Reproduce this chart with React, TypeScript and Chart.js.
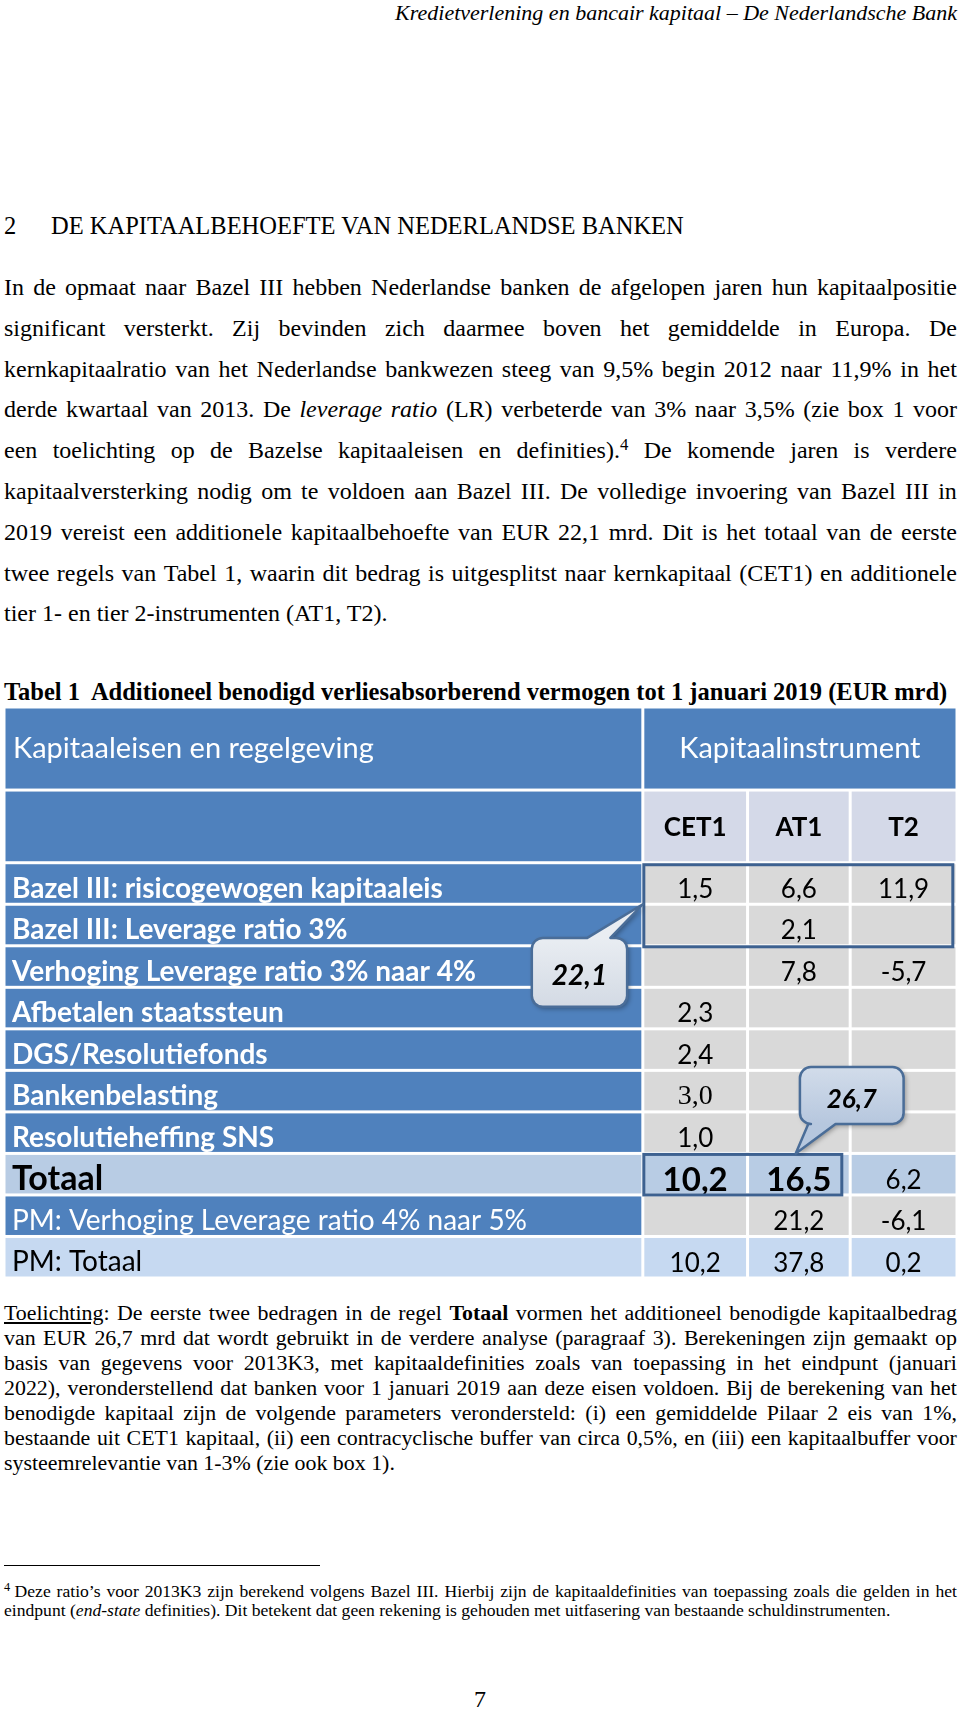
import React, { useEffect, useRef } from "react";
import { Chart, registerables } from "chart.js";

Chart.register(...registerables);

// ---------------- data ----------------
const headerLeft = "Kapitaaleisen en regelgeving";
const headerRight = "Kapitaalinstrument";
const instruments = ["CET1", "AT1", "T2"];
const rowLabels = [
  "Bazel III: risicogewogen kapitaaleis",
  "Bazel III: Leverage ratio 3%",
  "Verhoging Leverage ratio 3% naar 4%",
  "Afbetalen staatssteun",
  "DGS/Resolutiefonds",
  "Bankenbelasting",
  "Resolutieheffing SNS",
  "Totaal",
  "PM: Verhoging Leverage ratio 4% naar 5%",
  "PM: Totaal",
];
const cet1Values: (number | null)[] = [1.5, null, null, 2.3, 2.4, 3.0, 1.0, 10.2, null, 10.2];
const at1Values: (number | null)[] = [6.6, 2.1, 7.8, null, null, null, null, 16.5, 21.2, 37.8];
const t2Values: (number | null)[] = [11.9, null, -5.7, null, null, null, null, 6.2, -6.1, 0.2];
const calloutBaselValue = 22.1;
const calloutTotalValue = 26.7;

// ---------------- layout (not data) ----------------
const COL_EDGES = [0, 6.1, 7.1, 8.08, 9.1];
const HEAD_EDGES = [0, 2.0, 3.75];
const ROW0 = 3.75;
const Y_MAX = ROW0 + rowLabels.length;
const BLUE = "#4f81bd";
const GRAY = "#d9d9d9";
const LAV = "#d4d9e8";
const TOTAL = "#b8cce4";
const PMTOT = "#c6d9f1";
const BOX = "#3d6190";
const FONT = "Lato, 'Open Sans', sans-serif";

const fmt = (v: number) => v.toFixed(1).replace(".", ",");

const rowKind = (i: number) =>
  rowLabels[i] === "Totaal" ? "total" : rowLabels[i] === "PM: Totaal" ? "pmTotal" : rowLabels[i].startsWith("PM:") ? "pm" : "normal";

function calloutPath(
  ctx: CanvasRenderingContext2D,
  x0: number, y0: number, x1: number, y1: number, r: number,
  side: "top" | "bottom", a: number, b: number, tx: number, ty: number
) {
  ctx.beginPath();
  ctx.moveTo(x0 + r, y0);
  if (side === "top") {
    ctx.lineTo(a, y0);
    ctx.lineTo(tx, ty);
    ctx.lineTo(b, y0);
  }
  ctx.lineTo(x1 - r, y0);
  ctx.arcTo(x1, y0, x1, y0 + r, r);
  ctx.lineTo(x1, y1 - r);
  ctx.arcTo(x1, y1, x1 - r, y1, r);
  if (side === "bottom") {
    ctx.lineTo(b, y1);
    ctx.lineTo(tx, ty);
    ctx.lineTo(a, y1);
  }
  ctx.lineTo(x0 + r, y1);
  ctx.arcTo(x0, y1, x0, y1 - r, r);
  ctx.lineTo(x0, y0 + r);
  ctx.arcTo(x0, y0, x0 + r, y0, r);
  ctx.closePath();
}

const tablePlugin = {
  id: "tablePlugin",
  beforeDatasetsDraw(chart: any) {
    const { ctx } = chart;
    const xs = chart.scales.x;
    const ys = chart.scales.y;
    const X = (v: number) => xs.getPixelForValue(v);
    const Y = (v: number) => ys.getPixelForValue(v);
    const g = 1.5;
    const cell = (x0: number, x1: number, y0: number, y1: number, c: string) => {
      ctx.fillStyle = c;
      ctx.fillRect(X(x0) + g, Y(y0) + g, X(x1) - X(x0) - 2 * g, Y(y1) - Y(y0) - 2 * g);
    };
    ctx.save();
    // header row 1
    cell(COL_EDGES[0], COL_EDGES[1], HEAD_EDGES[0], HEAD_EDGES[1], BLUE);
    cell(COL_EDGES[1], COL_EDGES[4], HEAD_EDGES[0], HEAD_EDGES[1], BLUE);
    // header row 2
    cell(COL_EDGES[0], COL_EDGES[1], HEAD_EDGES[1], HEAD_EDGES[2], BLUE);
    instruments.forEach((_, c) => cell(COL_EDGES[c + 1], COL_EDGES[c + 2], HEAD_EDGES[1], HEAD_EDGES[2], LAV));
    // data rows
    rowLabels.forEach((_, i) => {
      const k = rowKind(i);
      const labelBg = k === "total" ? TOTAL : k === "pmTotal" ? PMTOT : BLUE;
      const valBg = k === "total" ? TOTAL : k === "pmTotal" ? PMTOT : GRAY;
      cell(COL_EDGES[0], COL_EDGES[1], ROW0 + i, ROW0 + i + 1, labelBg);
      for (let c = 1; c < 4; c++) cell(COL_EDGES[c], COL_EDGES[c + 1], ROW0 + i, ROW0 + i + 1, valBg);
    });

    // header texts
    ctx.textBaseline = "middle";
    ctx.fillStyle = "#ffffff";
    ctx.font = `29px ${FONT}`;
    ctx.textAlign = "left";
    const hy = Y((HEAD_EDGES[0] + HEAD_EDGES[1]) / 2);
    ctx.fillText(headerLeft, X(COL_EDGES[0]) + 9, hy);
    ctx.textAlign = "center";
    ctx.fillText(headerRight, X((COL_EDGES[1] + COL_EDGES[4]) / 2), hy);
    ctx.fillStyle = "#000000";
    ctx.font = `bold 26px ${FONT}`;
    instruments.forEach((name, c) => {
      ctx.fillText(name, X((COL_EDGES[c + 1] + COL_EDGES[c + 2]) / 2), Y((HEAD_EDGES[1] + HEAD_EDGES[2]) / 2) + 1);
    });

    // row labels
    ctx.textAlign = "left";
    rowLabels.forEach((label, i) => {
      const k = rowKind(i);
      const yc = Y(ROW0 + i + 0.5) + 5;
      if (k === "total") {
        ctx.font = `bold 34px ${FONT}`;
        ctx.fillStyle = "#000";
      } else if (k === "pmTotal") {
        ctx.font = `28px ${FONT}`;
        ctx.fillStyle = "#000";
      } else if (k === "pm") {
        ctx.font = `28px ${FONT}`;
        ctx.fillStyle = "#fff";
      } else {
        ctx.font = `bold 28px ${FONT}`;
        ctx.fillStyle = "#fff";
      }
      ctx.fillText(label, X(COL_EDGES[0]) + 8, yc);
    });
    ctx.restore();
  },
  afterDatasetsDraw(chart: any) {
    const { ctx } = chart;
    const xs = chart.scales.x;
    const ys = chart.scales.y;
    const X = (v: number) => xs.getPixelForValue(v);
    const Y = (v: number) => ys.getPixelForValue(v);
    ctx.save();
    ctx.textAlign = "center";
    ctx.textBaseline = "middle";
    chart.data.datasets.forEach((ds: any, di: number) => {
      const meta = chart.getDatasetMeta(di);
      meta.data.forEach((el: any, j: number) => {
        const p = ds.data[j];
        const k = rowKind(p.row);
        ctx.fillStyle = "#000";
        if (k === "total" && di < 2) ctx.font = `bold 33px ${FONT}`;
        else if (rowLabels[p.row] === "Bankenbelasting") ctx.font = `28px 'Liberation Serif', serif`;
        else ctx.font = `26px ${FONT}`;
        ctx.fillText(fmt(p.v), el.x, el.y + 6);
      });
    });

    // highlight boxes
    ctx.strokeStyle = BOX;
    ctx.lineWidth = 3;
    ctx.strokeRect(X(COL_EDGES[1]) + 1, Y(ROW0) + 2, X(9.06) - X(COL_EDGES[1]) - 1, Y(ROW0 + 2) - Y(ROW0) - 1);
    const ti = rowLabels.indexOf("Totaal");
    ctx.strokeRect(X(COL_EDGES[1]) + 1, Y(ROW0 + ti) + 1, X(8.0) - X(COL_EDGES[1]) - 1, Y(ROW0 + ti + 1) - Y(ROW0 + ti) - 1);

    const drawCallout = (
      x0: number, x1: number, y0: number, y1: number,
      side: "top" | "bottom", a: number, b: number, tx: number, ty: number,
      c0: string, c1: string, text: string, size: number
    ) => {
      const px0 = X(x0), px1 = X(x1), py0 = Y(y0), py1 = Y(y1);
      calloutPath(ctx, px0, py0, px1, py1, 11, side, X(a), X(b), X(tx), Y(ty));
      const grad = ctx.createLinearGradient(0, py0, 0, py1);
      grad.addColorStop(0, c0);
      grad.addColorStop(1, c1);
      ctx.save();
      ctx.shadowColor = "rgba(0,0,0,0.35)";
      ctx.shadowBlur = 5;
      ctx.shadowOffsetX = 2;
      ctx.shadowOffsetY = 2;
      ctx.fillStyle = grad;
      ctx.fill();
      ctx.restore();
      ctx.strokeStyle = "#4a6d98";
      ctx.lineWidth = 2.5;
      ctx.lineJoin = "round";
      ctx.stroke();
      ctx.fillStyle = "#000";
      ctx.font = `italic bold ${size}px ${FONT}`;
      ctx.textAlign = "center";
      ctx.textBaseline = "middle";
      ctx.fillText(text, (px0 + px1) / 2, (py0 + py1) / 2 + 4);
    };
    // callout over the two Basel III rows
    drawCallout(5.04, 5.95, 5.56, 7.22, "top", 5.57, 5.79, COL_EDGES[1], ROW0 + 1, "#e9edf2", "#d3dae4", fmt(calloutBaselValue), 28);
    // callout over the Totaal row
    drawCallout(7.6, 8.59, 8.67, 10.04, "bottom", 7.68, 7.94, 7.56, ROW0 + ti, "#d2dcea", "#b6c7de", fmt(calloutTotalValue), 26);
    ctx.restore();
  },
};

const serif = "'Liberation Serif', 'Times New Roman', serif";

type Tok = React.ReactNode;
const w = (s: string): Tok[] => s.split(" ");

function TL(props: {
  top: number; size: number; lh: number; left?: number; width?: number;
  align?: "left" | "right" | "center"; children: React.ReactNode;
}) {
  const { top, size, lh, left = 4, width = 953, align = "left", children } = props;
  return (
    <div
      style={{
        position: "absolute",
        top: top - lh / 2,
        left,
        width,
        fontSize: size,
        lineHeight: lh + "px",
        textAlign: align,
        whiteSpace: "nowrap",
        fontFamily: serif,
        color: "#000",
      }}
    >
      {children}
    </div>
  );
}

// fully justified single line: words spread with flexbox, never wraps
function JL(props: { top: number; size: number; lh: number; left?: number; width?: number; toks: Tok[] }) {
  const { top, size, lh, left = 4, width = 953, toks } = props;
  return (
    <div
      style={{
        position: "absolute",
        top: top - lh / 2,
        left,
        width,
        height: lh,
        fontSize: size,
        lineHeight: lh + "px",
        display: "flex",
        justifyContent: "space-between",
        alignItems: "baseline",
        whiteSpace: "nowrap",
        fontFamily: serif,
        color: "#000",
      }}
    >
      {toks.map((t, i) => (
        <span key={i}>{t}</span>
      ))}
    </div>
  );
}

const Sup = ({ c }: { c: string }) => (
  <sup style={{ fontSize: "0.7em", verticalAlign: "0.45em", lineHeight: 0 }}>{c}</sup>
);

function TableChart() {
  const ref = useRef<HTMLCanvasElement | null>(null);
  useEffect(() => {
    if (!ref.current) return;
    const cols = [cet1Values, at1Values, t2Values];
    const chart = new Chart(ref.current, {
      type: "scatter",
      data: {
        datasets: instruments.map((name, c) => ({
          label: name,
          data: cols[c]
            .map((v, i) =>
              v == null ? null : { x: (COL_EDGES[c + 1] + COL_EDGES[c + 2]) / 2, y: ROW0 + i + 0.5, v, row: i }
            )
            .filter((p) => p !== null) as any[],
          pointRadius: 0,
          pointHoverRadius: 0,
          showLine: false,
        })),
      },
      options: {
        animation: false,
        responsive: true,
        maintainAspectRatio: false,
        events: [],
        layout: { padding: 0 },
        plugins: { legend: { display: false }, tooltip: { enabled: false } },
        scales: {
          x: { type: "linear", min: 0, max: COL_EDGES[4], display: false },
          y: { type: "linear", min: 0, max: Y_MAX, reverse: true, display: false },
        },
      },
      plugins: [tablePlugin as any],
    });
    return () => chart.destroy();
  }, []);
  return (
    <div style={{ position: "absolute", left: 4, top: 707, width: 953, height: 571 }}>
      <canvas ref={ref} />
    </div>
  );
}

export default function App() {
  const bodyLines: Tok[][] = [
    w("In de opmaat naar Bazel III hebben Nederlandse banken de afgelopen jaren hun kapitaalpositie"),
    w("significant versterkt. Zij bevinden zich daarmee boven het gemiddelde in Europa. De"),
    w("kernkapitaalratio van het Nederlandse bankwezen steeg van 9,5% begin 2012 naar 11,9% in het"),
    [...w("derde kwartaal van 2013. De"), <i>leverage</i>, <i>ratio</i>, ...w("(LR) verbeterde van 3% naar 3,5% (zie box 1 voor")],
    [...w("een toelichting op de Bazelse kapitaaleisen en"), <>definities).<Sup c="4" /></>, ...w("De komende jaren is verdere")],
    w("kapitaalversterking nodig om te voldoen aan Bazel III. De volledige invoering van Bazel III in"),
    w("2019 vereist een additionele kapitaalbehoefte van EUR 22,1 mrd. Dit is het totaal van de eerste"),
    w("twee regels van Tabel 1, waarin dit bedrag is uitgesplitst naar kernkapitaal (CET1) en additionele"),
  ];
  const noteLines: Tok[][] = [
    [<><u>Toelichting</u>:</>, ...w("De eerste twee bedragen in de regel"), <b>Totaal</b>, ...w("vormen het additioneel benodigde kapitaalbedrag")],
    w("van EUR 26,7 mrd dat wordt gebruikt in de verdere analyse (paragraaf 3). Berekeningen zijn gemaakt op"),
    w("basis van gegevens voor 2013K3, met kapitaaldefinities zoals van toepassing in het eindpunt (januari"),
    w("2022), veronderstellend dat banken voor 1 januari 2019 aan deze eisen voldoen. Bij de berekening van het"),
    w("benodigde kapitaal zijn de volgende parameters verondersteld: (i) een gemiddelde Pilaar 2 eis van 1%,"),
    w("bestaande uit CET1 kapitaal, (ii) een contracyclische buffer van circa 0,5%, en (iii) een kapitaalbuffer voor"),
  ];
  return (
    <div style={{ position: "absolute", left: 0, top: 0, width: 960, height: 1710, overflow: "hidden", background: "#fff" }}>
      <TL top={13} size={22} lh={26} align="right" left={0} width={957}>
        <i>Kredietverlening en bancair kapitaal – De Nederlandsche Bank</i>
      </TL>
      <TL top={226} size={24.5} lh={30}>2</TL>
      <TL top={226} size={24.5} lh={30} left={51} width={900}>DE KAPITAALBEHOEFTE VAN NEDERLANDSE BANKEN</TL>
      {bodyLines.map((l, i) => (
        <JL key={"b" + i} top={287 + i * 40.8} size={24} lh={30} toks={l} />
      ))}
      <TL top={287 + 8 * 40.8} size={24} lh={30}>tier 1- en tier 2-instrumenten (AT1, T2).</TL>
      <TL top={692} size={24.5} lh={30} width={956}>
        <b>Tabel 1&nbsp; Additioneel benodigd verliesabsorberend vermogen tot 1 januari 2019 (EUR mrd)</b>
      </TL>
      <TableChart />
      {noteLines.map((l, i) => (
        <JL key={"n" + i} top={1312.4 + i * 25.08} size={21.9} lh={25} toks={l} />
      ))}
      <TL top={1312.4 + 6 * 25.08} size={21.9} lh={25}>systeemrelevantie van 1-3% (zie ook box 1).</TL>
      <div style={{ position: "absolute", left: 4, top: 1565, width: 316, height: 1, background: "#000" }} />
      <JL
        top={1590.5}
        size={17.6}
        lh={20}
        toks={[<><Sup c="4" /> Deze</>, ...w("ratio’s voor 2013K3 zijn berekend volgens Bazel III. Hierbij zijn de kapitaaldefinities van toepassing zoals die gelden in het")]}
      />
      <TL top={1610.2} size={17.6} lh={20}>
        eindpunt (<i>end-state</i> definities). Dit betekent dat geen rekening is gehouden met uitfasering van bestaande schuldinstrumenten.
      </TL>
      <TL top={1698.5} size={24} lh={26} align="center" left={430} width={100}>7</TL>
    </div>
  );
}
